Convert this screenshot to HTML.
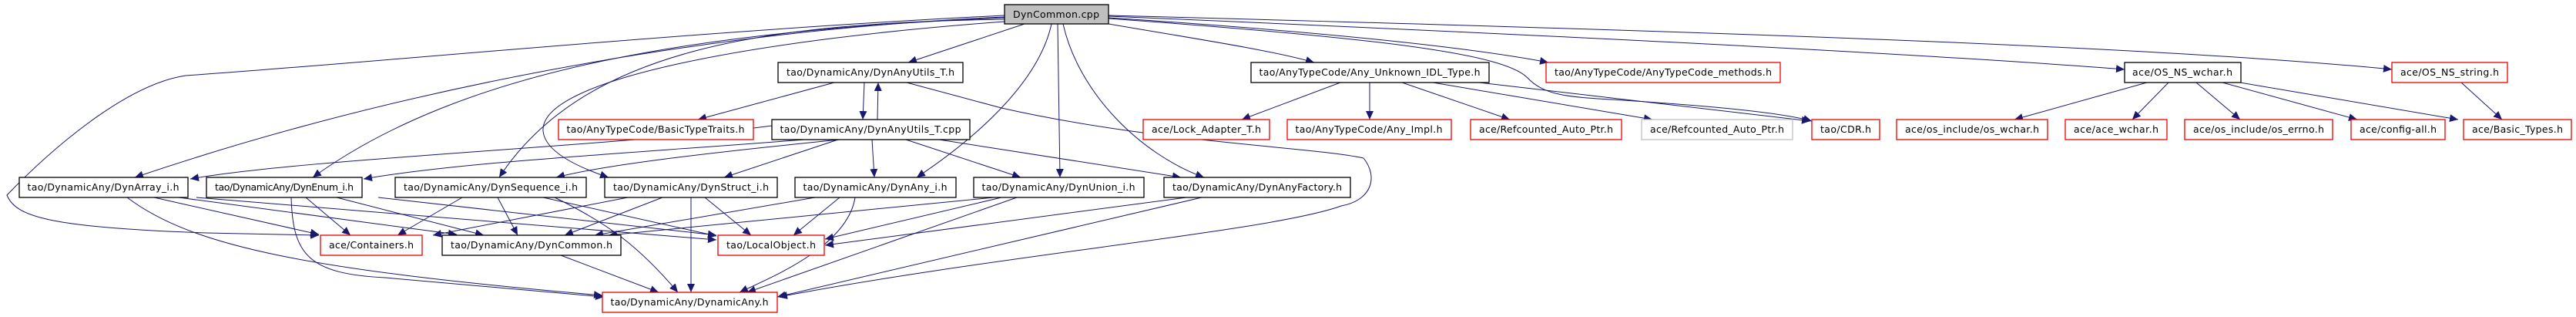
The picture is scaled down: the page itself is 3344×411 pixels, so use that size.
<!DOCTYPE html>
<html><head><meta charset="utf-8"><style>
html,body{margin:0;padding:0;background:#fff;width:3344px;height:411px;overflow:hidden}
svg text{font-family:"DejaVu Sans","Liberation Sans",sans-serif;font-size:12.5px;fill:#000}
</style></head><body>
<svg width="3344" height="411" viewBox="0 0 3344 411" xmlns="http://www.w3.org/2000/svg">
<defs><marker id="a" markerUnits="userSpaceOnUse" markerWidth="12" markerHeight="10" refX="11" refY="5" orient="auto"><path d="M0,0 L11,5 L0,10 z" fill="#191970"/></marker></defs>
<g fill="none" stroke="#191970" stroke-width="1" marker-end="url(#a)">
<!-- from DynCommon.cpp -->
<path d="M1304,20 C900,40 500,80 241,98 C160,110 60,200 9,253 C20,280 60,295 268,302 L414,305"/>
<path d="M1304,22 C900,40 500,120 175,230"/>
<path d="M1304,23 C900,40 600,90 406,230"/>
<path d="M1304,25 C1000,30 760,60 648,230"/>
<path d="M1304,28 C1000,50 700,100 705,170 C708,200 760,220 790,230"/>
<path d="M1330,31 L1179,81"/>
<path d="M1365,31 C1350,100 1280,170 1190,230"/>
<path d="M1373,31 L1376,230"/>
<path d="M1380,31 C1400,120 1480,200 1563,230"/>
<path d="M1439,31 C1550,50 1650,65 1706,81"/>
<path d="M1439,23 C1700,40 1900,60 2010,81"/>
<path d="M1439,24 C1800,50 1950,70 1982,100 C2010,130 2050,125 2150,133 C2250,140 2320,148 2352,157"/>
<path d="M1439,21 C2000,45 2500,70 2758,90"/>
<path d="M1439,20 C2200,40 2800,60 3105,90"/>
<!-- DynAnyUtils_T.h -->
<path d="M1083,107 L906,155"/>
<path d="M1122,107 L1120,155"/>
<path d="M1139,155 L1140,107"/>
<path d="M1177,107 L1300,140 C1500,185 1700,190 1770,205 C1790,230 1780,260 1741,267 C1650,300 1300,330 1011,385"/>
<!-- DynAnyUtils_T.cpp -->
<path d="M1002,163 C800,190 400,205 247,232"/>
<path d="M1044,181 C800,200 600,210 472,232"/>
<path d="M1090,181 C900,200 780,215 722,230"/>
<path d="M1088,181 L940,230"/>
<path d="M1132,181 L1135,230"/>
<path d="M1176,181 L1325,230"/>
<path d="M1219,181 L1533,230"/>
<!-- Any_Unknown_IDL_Type -->
<path d="M1740,107 L1612,155"/>
<path d="M1778,107 L1778,155"/>
<path d="M1820,107 L1960,155"/>
<path d="M1860,107 L2145,155"/>
<path d="M1920,107 L2350,157"/>
<!-- OS_NS_wchar / string -->
<path d="M2787,107 L2615,155"/>
<path d="M2815,107 L2768,155"/>
<path d="M2851,107 L2908,155"/>
<path d="M2885,107 L3060,155"/>
<path d="M2908,107 L3191,155"/>
<path d="M3195,107 L3248,155"/>
<!-- DynArray -->
<path d="M165,256 C250,320 400,350 782,383"/>
<path d="M200,256 L414,304"/>
<path d="M232,256 L593,304"/>
<path d="M255,256 L930,311"/>
<!-- DynEnum -->
<path d="M378,256 C380,330 400,355 500,360 L784,385"/>
<path d="M397,256 L455,305"/>
<path d="M437,256 L628,305"/>
<path d="M491,256 L930,305"/>
<!-- DynSequence -->
<path d="M600,256 L516,305"/>
<path d="M646,256 L672,305"/>
<path d="M705,256 L930,306"/>
<path d="M720,256 C790,290 830,320 880,379"/>
<!-- DynStruct -->
<path d="M815,256 L562,305"/>
<path d="M860,256 L733,305"/>
<path d="M897,256 L897,379"/>
<path d="M915,256 L975,305"/>
<!-- DynAny -->
<path d="M1058,256 L772,305"/>
<path d="M1090,256 L1030,305"/>
<path d="M1110,256 C1100,320 1000,360 960,379"/>
<!-- DynUnion -->
<path d="M1290,256 L790,305"/>
<path d="M1300,256 L1071,310"/>
<path d="M1320,256 L970,379"/>
<!-- DynAnyFactory -->
<path d="M1540,256 L1071,318"/>
<path d="M1560,256 L1009,385"/>
<!-- DynCommon.h -->
<path d="M728,331 L855,379"/>
</g>
<g fill="#fff" stroke="#000" stroke-width="1.3">
<rect x="1304" y="6" width="135" height="25" fill="#bfbfbf"/>
<rect x="1010" y="81" width="240" height="26"/>
<rect x="1624" y="81" width="309" height="26"/>
<rect x="2758" y="81" width="151" height="26"/>
<rect x="1002" y="155" width="257" height="26"/>
<rect x="25" y="230" width="219" height="26"/>
<rect x="268" y="230" width="202" height="26"/>
<rect x="513" y="230" width="248" height="26"/>
<rect x="785" y="230" width="224" height="26"/>
<rect x="1032" y="230" width="209" height="26"/>
<rect x="1264" y="230" width="221" height="26"/>
<rect x="1511" y="230" width="242" height="26"/>
<rect x="574" y="305" width="232" height="26"/>
</g>
<g fill="#fff" stroke="#e00" stroke-width="1.3">
<rect x="2007" y="81" width="304" height="26"/>
<rect x="3105" y="81" width="150" height="26"/>
<rect x="725" y="155" width="253" height="26"/>
<rect x="1484" y="155" width="164" height="26"/>
<rect x="1671" y="155" width="213" height="26"/>
<rect x="1909" y="155" width="196" height="26"/>
<rect x="2352" y="155" width="88" height="26"/>
<rect x="2462" y="155" width="196" height="26"/>
<rect x="2681" y="155" width="132" height="26"/>
<rect x="2836" y="155" width="192" height="26"/>
<rect x="3052" y="155" width="122" height="26"/>
<rect x="3198" y="155" width="140" height="26"/>
<rect x="416" y="305" width="132" height="26"/>
<rect x="932" y="305" width="138" height="26"/>
<rect x="782" y="379" width="227" height="26"/>
</g>
<rect x="2131" y="155" width="196" height="26" fill="#fff" stroke="#bfbfbf" stroke-width="1.3"/>
<g text-anchor="middle">
<text x="1371" y="23" textLength="112">DynCommon.cpp</text>
<text x="1130" y="98" textLength="218">tao/DynamicAny/DynAnyUtils_T.h</text>
<text x="1778" y="98" textLength="287">tao/AnyTypeCode/Any_Unknown_IDL_Type.h</text>
<text x="2159" y="98" textLength="282">tao/AnyTypeCode/AnyTypeCode_methods.h</text>
<text x="2833" y="98" textLength="130">ace/OS_NS_wchar.h</text>
<text x="3180" y="98" textLength="128">ace/OS_NS_string.h</text>
<text x="851" y="172" textLength="231">tao/AnyTypeCode/BasicTypeTraits.h</text>
<text x="1130" y="172" textLength="235">tao/DynamicAny/DynAnyUtils_T.cpp</text>
<text x="1566" y="172" textLength="142">ace/Lock_Adapter_T.h</text>
<text x="1777" y="172" textLength="191">tao/AnyTypeCode/Any_Impl.h</text>
<text x="2007" y="172" textLength="174">ace/Refcounted_Auto_Ptr.h</text>
<text x="2229" y="172" textLength="174">ace/Refcounted_Auto_Ptr.h</text>
<text x="2396" y="172" textLength="66">tao/CDR.h</text>
<text x="2560" y="172" textLength="174">ace/os_include/os_wchar.h</text>
<text x="2747" y="172" textLength="110">ace/ace_wchar.h</text>
<text x="2932" y="172" textLength="170">ace/os_include/os_errno.h</text>
<text x="3113" y="172" textLength="100">ace/config-all.h</text>
<text x="3268" y="172" textLength="118">ace/Basic_Types.h</text>
<text x="134" y="247" textLength="197">tao/DynamicAny/DynArray_i.h</text>
<text x="369" y="247" textLength="180">tao/DynamicAny/DynEnum_i.h</text>
<text x="637" y="247" textLength="226">tao/DynamicAny/DynSequence_i.h</text>
<text x="897" y="247" textLength="202">tao/DynamicAny/DynStruct_i.h</text>
<text x="1136" y="247" textLength="187">tao/DynamicAny/DynAny_i.h</text>
<text x="1374" y="247" textLength="199">tao/DynamicAny/DynUnion_i.h</text>
<text x="1632" y="247" textLength="220">tao/DynamicAny/DynAnyFactory.h</text>
<text x="482" y="322" textLength="110">ace/Containers.h</text>
<text x="690" y="322" textLength="210">tao/DynamicAny/DynCommon.h</text>
<text x="1001" y="322" textLength="116">tao/LocalObject.h</text>
<text x="895" y="396" textLength="205">tao/DynamicAny/DynamicAny.h</text>
</g>
</svg>
</body></html>
